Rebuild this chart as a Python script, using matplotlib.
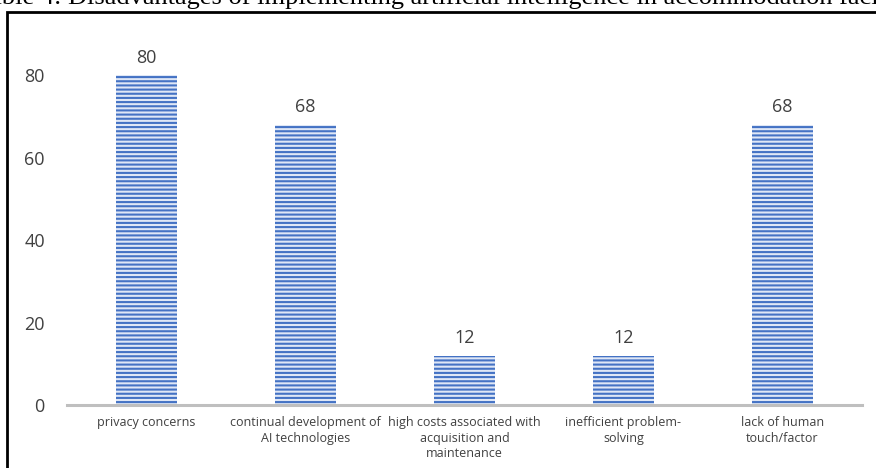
import matplotlib
matplotlib.use('Agg')
import matplotlib.pyplot as plt
from matplotlib.patches import Rectangle

categories = ["privacy concerns",
              "continual development of\nAI technologies",
              "high costs associated with\nacquisition and\nmaintenance",
              "inefficient problem-\nsolving",
              "lack of human\ntouch/factor"]
values = [80, 68, 12, 12, 68]
y_ticks = [0, 20, 40, 60, 80]
title = "Table 4: Disadvantages of implementing artificial intelligence in accommodation facilities"

plt.rcParams['hatch.linewidth'] = 1.5
plt.rcParams['hatch.color'] = '#4472c4'

fig = plt.figure(figsize=(8.76, 4.68), dpi=100)
ax = fig.add_axes([0.0765, 0.1346, 0.9075, 0.7924])

x = list(range(len(values)))
bars = ax.bar(x, values, width=0.38, color='#dfe7f6', edgecolor='#4472c4',
              linewidth=0, hatch='----')

# value labels above bars
for b, v in zip(bars, values):
    ax.annotate(str(v), xy=(b.get_x() + b.get_width() / 2, v), xytext=(0, 6),
                textcoords='offset points', ha='center', va='bottom',
                fontsize=13, color='#404040', family='Open Sans')

ax.set_xlim(-0.5, len(values) - 0.5)
ax.set_ylim(0, 90)
ax.set_yticks(y_ticks)
ax.set_yticklabels([str(t) for t in y_ticks], fontsize=13, color='#404040', family='Open Sans')
ax.set_xticks(x)
ax.set_xticklabels(categories, fontsize=9, color='#404040', family='Open Sans', linespacing=1.25)
ax.tick_params(axis='both', length=0)
ax.tick_params(axis='y', pad=16)
ax.tick_params(axis='x', pad=8)

for s in ['top', 'right', 'left']:
    ax.spines[s].set_visible(False)
ax.spines['bottom'].set_color('#bfbfbf')
ax.spines['bottom'].set_linewidth(2.2)

# outer frame of the table cell, cut off at right and bottom
frame = Rectangle((7 / 876, -0.05), 1.2, 1 - 12 / 468 + 0.05, transform=fig.transFigure,
                  fill=False, edgecolor='black', linewidth=2, clip_on=False)
fig.patches.append(frame)

# caption cropped at the top edge
fig.text(-24 / 876, 1 - 4 / 468, title, fontsize=19, family='Liberation Serif',
         ha='left', va='baseline', color='black')

fig.savefig('out.png', dpi=100)
